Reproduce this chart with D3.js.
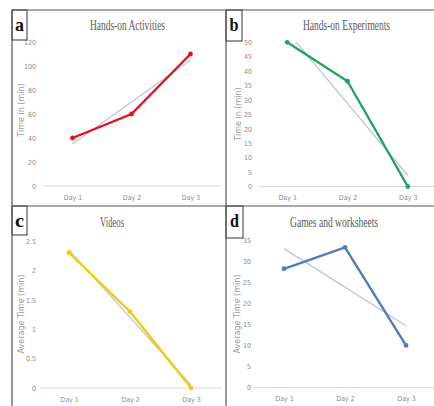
<!DOCTYPE html>
<meta charset="utf-8">
<style>
body { margin: 0; background: #fff; }
.tick text { font-family: "Liberation Sans Narrow", "DejaVu Sans Condensed", sans-serif; font-size: 7px; fill: #8a8a8a; }
.title { font-family: "Liberation Serif", "DejaVu Serif", serif; font-size: 14px; fill: #595959; }
.ytitle { font-family: "DejaVu Sans", sans-serif; font-size: 8px; fill: #9a9a9a; }
.letter { font-family: "Liberation Serif", serif; font-size: 19px; font-weight: bold; fill: #111; }
</style>
<body>
<script src="https://cdn.jsdelivr.net/npm/d3@7"></script>
<script>

// data
var days = ["Day 1", "Day 2", "Day 3"];

var activities = [40, 60, 110];
var experiments = [50, 36.5, 0];
var videos = [2.3, 1.3, 0];
var games = [28.3, 33.4, 10];

// trendline values at Day 1 and Day 3
var trendActivities = [35, 105];
var trendExperiments = [53.8, 3.8];
var trendVideos = [2.35, 0.05];
var trendGames = [33.1, 14.7];

var ticksActivities = [0, 20, 40, 60, 80, 100, 120];
var ticksExperiments = [0, 5, 10, 15, 20, 25, 30, 35, 40, 45, 50];
var ticksVideos = [0, 0.5, 1, 1.5, 2, 2.5];
var ticksGames = [0, 5, 10, 15, 20, 25, 30, 35];

var svg = d3.select("body").append("svg")
    .attr("width", 434)
    .attr("height", 406);

// panel layout
var panels = [
  { letter: "a", title: "Hands-on Activities", tw: 75, tx: 127.5, ty: 30,
    values: activities, trend: trendActivities, ticks: ticksActivities, max: 120,
    color: "#e8101e", ytitle: "Time in (min)", ytx: 24, yty: 110,
    xr: [43, 220], yr: [186, 42], base: [43, 222], labx: 36,
    box: [12, 10, 15, 30] },
  { letter: "b", title: "Hands-on Experiments", tw: 87, tx: 346.5, ty: 30,
    values: experiments, trend: trendExperiments, ticks: ticksExperiments, max: 50,
    color: "#1fa65a", ytitle: "Time in (min)", ytx: 241, yty: 114,
    xr: [257, 438], yr: [186.5, 42.3], base: [259, 434], labx: 252,
    box: [226, 10, 16, 31] },
  { letter: "c", title: "Videos", tw: 24, tx: 112, ty: 227,
    values: videos, trend: trendVideos, ticks: ticksVideos, max: 2.5,
    color: "#f2cc0c", ytitle: "Average Time (min)", ytx: 24, yty: 314,
    xr: [38.5, 221.5], yr: [388, 241], base: [40, 222], labx: 36,
    box: [12, 206, 15, 29] },
  { letter: "d", title: "Games and worksheets", tw: 88, tx: 334, ty: 227,
    values: games, trend: trendGames, ticks: ticksGames, max: 35,
    color: "#4f7bbd", ytitle: "Average Time (min)", ytx: 240, yty: 314,
    xr: [253.5, 436.5], yr: [387.3, 240.7], base: [254, 434], labx: 251,
    box: [226, 206, 17, 32] }
];

panels.forEach(function(p, i) {
  var g = svg.append("g");
  var x = d3.scalePoint().domain(days).range(p.xr).padding(0.5);
  var y = d3.scaleLinear().domain([0, p.max]).range(p.yr);

  // baseline
  g.append("line")
    .attr("x1", p.base[0]).attr("x2", p.base[1])
    .attr("y1", y(0)).attr("y2", y(0))
    .attr("stroke", "#d9d9d9").attr("stroke-width", 1);

  // y ticks
  g.append("g")
    .attr("transform", "translate(" + p.labx + ",0)")
    .call(d3.axisLeft(y).tickValues(p.ticks).tickFormat(d3.format("~g")).tickSize(0).tickPadding(0))
    .call(function(a) { a.select(".domain").remove(); });

  // x ticks
  g.append("g")
    .attr("transform", "translate(0," + (y(0) + 6) + ")")
    .call(d3.axisBottom(x).tickSize(0).tickPadding(3))
    .call(function(a) { a.select(".domain").remove(); });

  // title
  g.append("text")
    .attr("class", "title")
    .attr("x", p.tx).attr("y", p.ty)
    .attr("text-anchor", "middle")
    .attr("textLength", p.tw)
    .attr("lengthAdjust", "spacingAndGlyphs")
    .text(p.title);

  // y axis title
  g.append("text")
    .attr("class", "ytitle")
    .attr("transform", "translate(" + p.ytx + "," + p.yty + ") rotate(-90)")
    .attr("text-anchor", "middle")
    .text(p.ytitle);

  // clip for trendline
  svg.append("clipPath").attr("id", "clip" + i)
    .append("rect")
    .attr("x", p.xr[0]).attr("y", p.yr[1])
    .attr("width", p.xr[1] - p.xr[0]).attr("height", p.yr[0] - p.yr[1]);

  g.append("line")
    .attr("clip-path", "url(#clip" + i + ")")
    .attr("x1", x(days[0])).attr("y1", y(p.trend[0]))
    .attr("x2", x(days[2])).attr("y2", y(p.trend[1]))
    .attr("stroke", "#b7c6de").attr("stroke-width", 1.3);

  // series
  var line = d3.line()
    .x(function(d, j) { return x(days[j]); })
    .y(function(d) { return y(d); });

  g.append("path")
    .datum(p.values)
    .attr("d", line)
    .attr("fill", "none")
    .attr("stroke", p.color)
    .attr("stroke-width", 2.4);

  g.selectAll(".dot")
    .data(p.values).enter()
    .append("circle")
    .attr("cx", function(d, j) { return x(days[j]); })
    .attr("cy", function(d) { return y(d); })
    .attr("r", 2.4)
    .attr("fill", p.color);

  // letter box
  g.append("rect")
    .attr("x", p.box[0]).attr("y", p.box[1])
    .attr("width", p.box[2]).attr("height", p.box[3])
    .attr("fill", "#fff").attr("stroke", "#333").attr("stroke-width", 1);
  g.append("text")
    .attr("class", "letter")
    .attr("x", p.box[0] + p.box[2] / 2)
    .attr("y", p.box[1] + 21)
    .attr("text-anchor", "middle")
    .attr("textLength", 9)
    .attr("lengthAdjust", "spacingAndGlyphs")
    .text(p.letter);
});

// frame lines
var frame = [[12, 10, 434, 10], [12, 10, 12, 406], [12, 206, 434, 206], [226, 10, 226, 406]];
svg.selectAll(".frame")
  .data(frame).enter()
  .append("line")
  .attr("x1", function(d) { return d[0]; })
  .attr("y1", function(d) { return d[1]; })
  .attr("x2", function(d) { return d[2]; })
  .attr("y2", function(d) { return d[3]; })
  .attr("stroke", "#555").attr("stroke-width", 1.2);

</script>
</body>
